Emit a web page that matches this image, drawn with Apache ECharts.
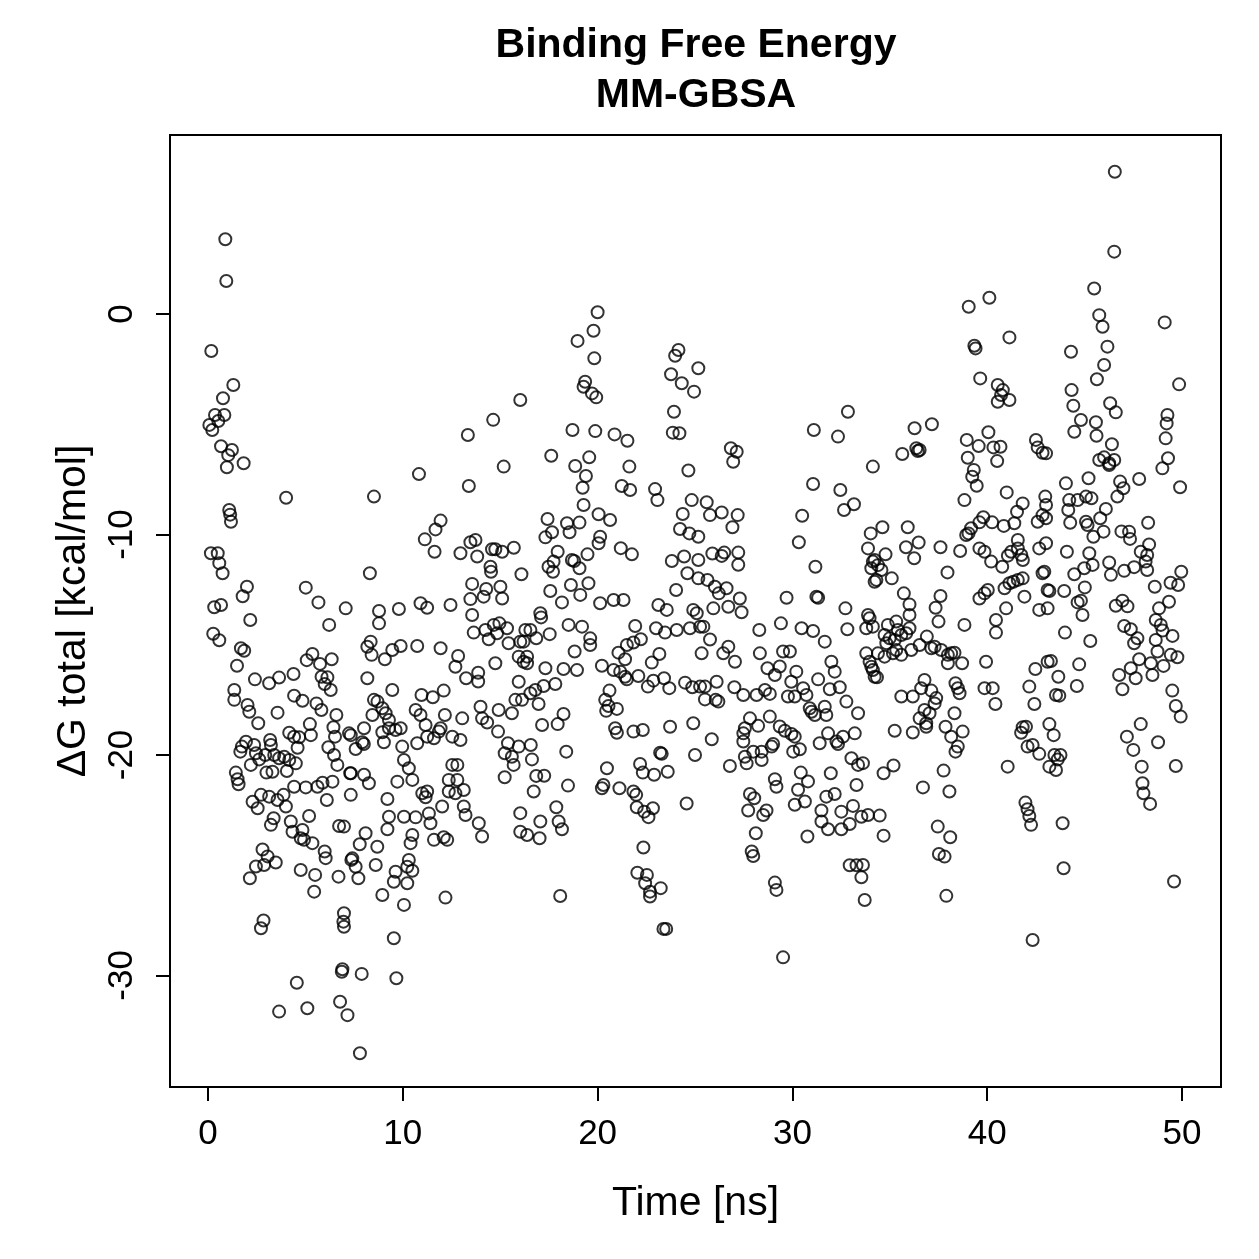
<!DOCTYPE html>
<html>
<head>
<meta charset="utf-8">
<script src="https://cdn.jsdelivr.net/npm/echarts@6.0.0/dist/echarts.min.js"></script>
<style>
  html, body { margin: 0; padding: 0; background: #fff; }
  #chart { width: 1259px; height: 1259px; }
</style>
</head>
<body>
<div id="chart"></div>
<script>
// [time (ns), dG total (kcal/mol)], grouped by time range
const pts0to7 = [[0.89,3.39],[0.94,1.5],[0.17,-1.68],[1.3,-3.22],[0.77,-3.82],[0.36,-4.58],[0.84,-4.58],[0.53,-4.85],[0.07,-5.03],[0.22,-5.26],[0.67,-6.0],[1.23,-6.17],[1.04,-6.4],[0.97,-6.95],[1.83,-6.77],[4.01,-8.33],[1.09,-8.89],[1.14,-9.1],[1.18,-9.42],[0.15,-10.85],[0.5,-10.85],[0.58,-11.3],[0.75,-11.76],[2.0,-12.37],[1.78,-12.8],[5.02,-12.41],[5.67,-13.08],[0.32,-13.3],[0.67,-13.2],[7.07,-13.35],[2.17,-13.88],[6.22,-14.1],[0.27,-14.5],[0.58,-14.8],[1.69,-15.16],[1.86,-15.27],[1.49,-15.95],[5.07,-15.7],[5.36,-15.42],[5.75,-15.87],[6.35,-15.66],[5.83,-16.45],[6.13,-16.48],[5.99,-16.78],[6.3,-17.05],[2.41,-16.57],[3.14,-16.75],[3.65,-16.49],[4.39,-16.33],[1.35,-17.05],[1.35,-17.5],[2.03,-17.73],[2.12,-18.04],[4.42,-17.31],[4.85,-17.54],[5.57,-17.66],[5.82,-17.96],[3.57,-18.08],[2.58,-18.56],[6.59,-18.19],[6.44,-18.74],[6.52,-19.17],[5.23,-18.6],[5.28,-19.1],[4.17,-18.99],[4.42,-19.17],[4.68,-19.2],[4.6,-19.67],[1.95,-19.4],[1.74,-19.62],[1.66,-19.85],[2.37,-19.55],[3.19,-19.32],[3.23,-19.55],[6.18,-19.65],[6.47,-20.0],[7.24,-19.02],[2.46,-19.92],[2.63,-20.2],[2.2,-20.45],[2.94,-20.0],[3.4,-20.0],[3.65,-20.15],[3.91,-20.08],[4.17,-20.23],[4.51,-20.38],[3.0,-20.8],[3.31,-20.76],[4.05,-20.73],[6.64,-20.45],[1.43,-20.8],[1.52,-21.1],[1.57,-21.33],[7.3,-20.83],[4.42,-21.44],[5.02,-21.47],[5.62,-21.44],[5.88,-21.26],[6.39,-21.21],[6.1,-22.04],[2.29,-22.12],[2.55,-22.42],[2.72,-21.81],[3.14,-21.89],[3.57,-22.04],[3.88,-21.81],[4.0,-22.34],[3.37,-22.87],[3.23,-23.17],[4.25,-23.02],[4.34,-23.48],[4.85,-23.4],[4.76,-23.78],[4.93,-23.85],[5.36,-24.0],[5.19,-22.77],[5.99,-24.38],[6.04,-24.68],[6.73,-23.22],[6.98,-23.25],[2.8,-24.29],[3.06,-24.6],[2.46,-25.06],[2.88,-24.99],[3.48,-24.88],[2.15,-25.59],[4.76,-25.22],[5.5,-25.44],[5.45,-26.2],[6.7,-25.52],[7.36,-24.76],[2.85,-27.51],[2.72,-27.86],[6.98,-27.18],[6.95,-27.56],[6.98,-27.79],[6.9,-29.72],[6.87,-29.83],[4.56,-30.33],[3.65,-31.64],[5.1,-31.49],[6.78,-31.19],[7.16,-31.8]];

const pts7to16 = [[16.03,-3.9],[14.64,-4.8],[13.34,-5.49],[15.18,-6.92],[10.83,-7.26],[13.39,-7.8],[8.52,-8.28],[11.94,-9.37],[11.68,-9.77],[11.13,-10.22],[11.63,-10.78],[13.47,-10.35],[13.73,-10.25],[12.96,-10.85],[13.82,-11.0],[14.58,-10.67],[14.75,-10.67],[15.1,-10.78],[15.7,-10.6],[8.31,-11.76],[14.5,-11.46],[14.53,-11.69],[16.09,-11.8],[13.56,-12.24],[14.28,-12.47],[15.01,-12.37],[15.1,-12.9],[14.15,-12.82],[13.47,-12.93],[10.91,-13.12],[11.25,-13.32],[12.45,-13.2],[9.8,-13.38],[8.78,-13.47],[8.78,-14.03],[13.56,-13.65],[13.64,-14.45],[14.24,-14.33],[14.67,-14.1],[14.96,-14.03],[15.35,-14.25],[14.84,-14.48],[14.41,-14.75],[15.43,-14.93],[16.03,-14.86],[15.95,-15.54],[16.2,-15.77],[16.29,-14.33],[8.35,-14.86],[8.18,-15.09],[8.4,-15.46],[9.08,-15.66],[9.46,-15.24],[9.89,-15.06],[10.74,-15.06],[11.94,-15.16],[12.84,-15.51],[12.7,-16.0],[13.25,-16.52],[13.87,-16.27],[13.87,-16.67],[14.75,-15.84],[8.18,-16.52],[9.46,-17.05],[10.96,-17.28],[11.54,-17.38],[12.1,-17.08],[15.95,-16.68],[15.78,-17.5],[16.12,-17.5],[8.52,-17.5],[8.7,-17.58],[8.95,-17.88],[9.12,-18.11],[8.44,-18.19],[9.29,-18.41],[9.63,-18.87],[10.66,-17.96],[10.91,-18.19],[11.17,-18.64],[12.16,-18.19],[13.05,-18.34],[13.99,-17.81],[14.07,-18.34],[14.33,-18.53],[14.92,-17.96],[15.6,-18.11],[14.89,-18.94],[15.4,-19.47],[15.95,-19.62],[15.23,-19.92],[15.6,-20.08],[15.69,-20.45],[15.23,-21.01],[7.33,-19.1],[8.01,-18.79],[7.58,-19.73],[7.92,-19.42],[8.0,-19.5],[8.95,-18.97],[9.03,-19.42],[9.29,-18.79],[9.89,-18.79],[9.97,-19.62],[10.74,-19.47],[10.06,-20.23],[10.31,-20.6],[10.49,-21.13],[11.25,-19.17],[11.6,-19.24],[11.85,-18.94],[11.94,-18.79],[12.54,-19.17],[12.96,-19.32],[7.33,-20.83],[8.01,-20.9],[8.26,-21.28],[7.33,-21.81],[9.72,-21.21],[9.21,-22.0],[9.29,-22.8],[9.21,-23.37],[10.06,-22.8],[10.66,-22.83],[11.34,-22.65],[11.42,-23.1],[12.02,-22.34],[12.54,-20.45],[12.8,-20.45],[12.36,-21.13],[12.8,-21.13],[12.36,-21.66],[12.7,-21.74],[13.13,-21.59],[13.13,-22.34],[13.22,-22.72],[13.9,-23.1],[14.07,-23.7],[11.0,-21.74],[11.25,-21.66],[11.17,-21.92],[11.6,-23.85],[12.1,-23.73],[12.28,-23.85],[10.49,-23.63],[10.4,-24.0],[10.31,-24.76],[10.23,-25.07],[10.49,-25.25],[10.23,-25.82],[9.63,-25.3],[9.54,-25.75],[8.09,-23.55],[7.79,-24.05],[7.41,-24.69],[7.58,-25.07],[7.72,-25.59],[8.69,-24.16],[8.61,-24.99],[8.95,-26.35],[10.06,-26.8],[12.19,-26.47],[9.54,-28.31],[7.89,-29.93],[9.67,-30.13],[7.8,-33.53]];

const pts16to25 = [[20.0,0.08],[19.79,-0.76],[18.97,-1.22],[19.83,-2.01],[19.36,-3.07],[19.28,-3.3],[19.71,-3.6],[19.93,-3.78],[24.15,-1.63],[23.98,-1.89],[25.17,-2.46],[23.77,-2.73],[24.32,-3.14],[24.95,-3.52],[23.92,-4.43],[23.86,-5.38],[24.2,-5.41],[18.71,-5.26],[19.88,-5.31],[20.87,-5.46],[21.53,-5.75],[17.62,-6.43],[19.57,-6.5],[18.85,-6.89],[19.4,-7.35],[19.23,-7.88],[19.28,-8.66],[21.63,-6.92],[21.24,-7.8],[21.67,-7.98],[22.95,-7.94],[23.07,-8.44],[24.66,-7.1],[24.83,-8.44],[24.37,-9.07],[24.23,-9.75],[24.71,-9.95],[25.17,-10.1],[17.43,-9.3],[17.66,-9.9],[17.32,-10.13],[18.43,-9.49],[18.56,-9.9],[19.07,-9.46],[20.05,-9.08],[20.64,-9.34],[20.13,-10.1],[20.05,-10.4],[21.19,-10.62],[21.76,-10.9],[17.95,-10.78],[17.74,-11.23],[17.48,-11.46],[17.71,-11.69],[18.68,-11.16],[18.8,-11.2],[19.07,-11.53],[19.48,-10.9],[17.57,-12.56],[18.17,-13.08],[18.63,-12.29],[19.11,-12.74],[19.53,-12.21],[20.13,-13.12],[20.82,-12.97],[21.33,-12.97],[23.12,-13.2],[23.55,-13.42],[24.03,-12.52],[23.81,-11.2],[24.44,-11.0],[24.61,-11.76],[25.17,-11.99],[25.17,-11.16],[24.91,-13.42],[17.06,-13.57],[25.09,-13.57],[17.1,-13.76],[16.55,-14.33],[16.85,-14.71],[16.2,-14.86],[17.54,-14.52],[18.51,-14.1],[19.2,-14.18],[19.62,-14.71],[19.62,-15.01],[18.82,-15.31],[21.93,-14.15],[23.0,-14.25],[23.46,-14.45],[24.06,-14.33],[24.74,-14.25],[25.26,-14.18],[21.07,-15.36],[21.5,-15.01],[21.84,-14.9],[22.22,-14.75],[21.41,-15.66],[22.78,-15.81],[23.17,-15.42],[16.38,-15.54],[16.38,-15.84],[17.32,-16.07],[18.25,-16.1],[18.94,-16.15],[16.55,-17.2],[16.8,-17.05],[17.23,-16.87],[17.83,-16.78],[16.97,-17.69],[20.22,-15.95],[20.82,-16.15],[21.16,-16.22],[21.41,-16.45],[21.5,-16.57],[22.09,-16.42],[22.58,-16.9],[22.86,-16.63],[23.41,-16.52],[23.68,-16.97],[24.49,-16.72],[24.86,-16.93],[25.26,-16.9],[20.61,-17.08],[20.39,-17.5],[20.56,-17.78],[20.44,-18.0],[20.99,-17.91],[20.9,-18.79],[20.99,-18.99],[21.84,-18.94],[22.32,-18.87],[23.72,-18.72],[24.91,-18.56],[18.25,-18.14],[17.95,-18.6],[17.15,-18.64],[23.21,-19.9],[23.29,-19.95],[25.0,-20.0],[16.57,-19.55],[16.63,-20.2],[16.85,-20.95],[17.26,-20.94],[16.72,-21.66],[18.39,-19.85],[18.48,-21.39],[17.88,-22.37],[16.03,-22.64],[16.03,-23.48],[16.38,-23.63],[17.02,-23.78],[17.06,-23.02],[18.0,-23.02],[18.17,-23.37],[20.48,-20.6],[20.3,-21.36],[20.22,-21.51],[21.12,-21.51],[21.84,-21.66],[21.98,-21.81],[22.01,-22.37],[22.39,-22.57],[22.61,-22.82],[22.84,-22.42],[22.18,-20.41],[22.32,-20.8],[22.9,-20.9],[23.6,-20.76],[24.57,-22.2],[22.35,-24.2],[22.04,-25.34],[22.53,-25.44],[22.44,-25.82],[22.69,-26.2],[22.69,-26.42],[23.24,-26.04],[18.08,-26.4],[23.38,-27.89],[23.52,-27.89]];

const pts25to34 = [[26.84,-6.09],[27.14,-6.25],[26.96,-6.7],[32.85,-4.43],[31.1,-5.26],[32.34,-5.56],[34.13,-6.92],[31.06,-7.71],[32.46,-7.98],[33.16,-8.63],[32.65,-8.89],[30.5,-9.15],[30.33,-10.35],[25.6,-8.54],[25.77,-9.12],[26.37,-9.0],[27.19,-9.12],[26.92,-9.67],[25.89,-10.86],[26.37,-10.97],[26.5,-10.82],[27.22,-10.82],[27.22,-11.37],[25.64,-12.06],[26.02,-12.37],[26.22,-12.67],[26.62,-12.44],[27.3,-12.9],[26.71,-13.28],[25.94,-13.35],[27.39,-13.53],[29.7,-12.87],[31.23,-12.82],[31.32,-12.87],[32.72,-13.35],[31.18,-11.46],[34.02,-9.95],[33.88,-10.63],[34.13,-11.23],[34.05,-11.53],[34.22,-12.14],[33.88,-13.65],[25.43,-14.18],[25.77,-14.76],[25.34,-15.39],[26.45,-15.39],[26.71,-15.09],[27.05,-15.77],[28.3,-14.33],[28.33,-15.39],[29.41,-14.03],[30.47,-14.25],[31.06,-14.38],[31.66,-14.86],[29.52,-15.31],[29.87,-15.31],[32.82,-14.3],[33.79,-14.25],[33.96,-13.8],[32.0,-15.77],[32.17,-16.22],[31.92,-17.02],[32.43,-16.93],[31.32,-16.57],[32.77,-17.58],[33.37,-18.11],[33.79,-15.39],[34.05,-16.0],[34.22,-16.45],[25.51,-16.9],[26.11,-16.68],[25.51,-17.48],[26.06,-17.5],[26.2,-17.58],[27.02,-16.93],[27.48,-17.28],[28.16,-17.28],[28.59,-17.05],[28.84,-17.23],[28.72,-16.07],[29.1,-16.37],[29.35,-15.99],[30.2,-16.22],[29.94,-16.68],[29.77,-17.35],[30.12,-17.35],[30.55,-16.97],[30.72,-17.28],[30.89,-17.88],[30.98,-18.04],[31.15,-18.19],[31.66,-17.81],[31.74,-18.19],[31.83,-19.02],[31.4,-19.47],[32.26,-19.39],[32.34,-19.5],[32.6,-19.17],[33.2,-19.02],[33.03,-20.15],[33.37,-20.45],[33.62,-20.37],[31.97,-20.83],[33.29,-21.36],[27.82,-18.34],[27.56,-18.79],[27.48,-19.02],[27.48,-19.39],[28.24,-18.68],[28.84,-18.26],[29.35,-18.71],[29.61,-18.9],[29.95,-19.05],[30.12,-19.17],[27.56,-20.08],[27.65,-20.38],[27.99,-19.85],[28.42,-19.85],[28.42,-20.23],[28.93,-19.62],[29.01,-19.5],[30.04,-19.85],[30.38,-19.74],[26.79,-20.5],[25.86,-19.29],[29.1,-21.1],[29.18,-21.44],[30.43,-20.8],[30.8,-21.2],[30.29,-21.58],[30.64,-22.11],[30.12,-22.26],[31.49,-22.52],[31.49,-23.02],[31.74,-21.89],[32.17,-21.77],[32.51,-22.57],[33.11,-22.31],[32.94,-23.13],[32.51,-23.37],[33.54,-22.8],[33.88,-22.72],[31.83,-23.37],[30.77,-23.7],[27.82,-21.77],[28.04,-21.96],[27.73,-22.52],[28.5,-22.72],[28.67,-22.52],[28.12,-23.55],[27.91,-24.38],[27.99,-24.58],[29.1,-25.79],[29.18,-26.12],[29.52,-29.18],[32.94,-25.0],[33.29,-25.0],[33.62,-24.99],[33.54,-25.55],[33.71,-26.58]];

const pts34to43 = [[40.11,0.74],[39.05,0.33],[41.14,-1.06],[39.34,-1.44],[39.4,-1.56],[39.64,-2.92],[40.54,-3.22],[40.8,-3.45],[40.71,-3.67],[40.54,-3.98],[41.14,-3.9],[36.27,-5.18],[37.16,-5.0],[36.36,-6.09],[36.44,-6.21],[36.53,-6.17],[35.64,-6.35],[38.95,-5.71],[39.56,-5.99],[40.06,-5.36],[40.32,-6.05],[40.68,-6.02],[40.51,-6.67],[42.5,-5.71],[42.59,-6.05],[42.84,-6.29],[39.0,-6.52],[39.31,-7.07],[39.23,-7.38],[39.46,-7.79],[38.83,-8.44],[41.0,-8.09],[41.82,-8.59],[41.53,-8.97],[41.39,-9.49],[40.85,-9.61],[40.25,-9.45],[39.8,-9.22],[39.6,-9.45],[39.17,-9.72],[39.04,-9.95],[38.92,-10.02],[42.98,-8.28],[43.02,-8.66],[42.84,-9.12],[42.59,-9.42],[34.62,-9.67],[34.22,-11.16],[34.39,-11.39],[34.57,-11.61],[34.31,-12.06],[34.78,-10.9],[35.1,-11.99],[35.92,-9.67],[35.83,-10.58],[36.25,-11.08],[36.48,-10.36],[37.6,-10.58],[37.96,-11.72],[38.61,-10.75],[35.72,-12.67],[36.01,-13.17],[37.35,-13.32],[37.6,-12.79],[39.6,-10.63],[39.86,-10.78],[40.2,-11.23],[40.77,-11.46],[41.06,-10.96],[41.23,-10.78],[41.57,-10.25],[41.57,-10.63],[41.75,-10.93],[41.83,-11.16],[40.89,-12.44],[41.14,-12.21],[41.34,-12.14],[41.57,-12.06],[41.82,-11.99],[41.91,-12.82],[42.67,-10.63],[43.02,-10.4],[42.84,-11.76],[42.93,-11.69],[43.1,-12.52],[42.67,-13.42],[43.1,-13.35],[39.6,-12.9],[39.86,-12.67],[40.03,-12.52],[40.97,-13.35],[36.01,-13.65],[37.5,-13.95],[38.83,-14.1],[40.45,-13.88],[40.45,-14.45],[34.13,-14.18],[34.9,-14.1],[35.33,-13.95],[35.41,-14.33],[34.73,-14.56],[34.99,-14.71],[35.25,-14.78],[35.59,-14.56],[35.84,-14.48],[36.01,-14.25],[34.82,-14.93],[35.33,-15.24],[35.59,-15.46],[35.16,-15.39],[34.39,-15.39],[34.73,-15.54],[33.96,-15.77],[34.13,-16.15],[34.34,-16.48],[36.1,-15.24],[36.53,-15.01],[36.9,-14.63],[37.13,-15.16],[37.3,-15.09],[37.64,-15.24],[37.98,-15.46],[38.15,-15.39],[38.32,-15.36],[37.98,-15.84],[38.71,-15.84],[39.94,-15.77],[39.86,-16.97],[40.28,-16.97],[40.42,-17.69],[42.47,-16.1],[42.16,-16.9],[42.42,-17.69],[43.1,-15.77],[36.78,-16.6],[36.61,-16.97],[37.13,-17.08],[37.38,-17.42],[37.3,-17.66],[36.78,-17.96],[37.04,-18.11],[36.53,-18.34],[36.87,-18.56],[36.87,-18.72],[35.59,-17.35],[36.18,-17.35],[35.25,-18.9],[36.18,-18.98],[38.37,-16.75],[38.49,-16.97],[38.58,-17.2],[38.32,-18.11],[37.86,-18.72],[38.74,-18.94],[38.15,-19.17],[38.49,-19.62],[38.37,-19.85],[37.76,-20.71],[36.7,-21.47],[38.06,-21.66],[35.19,-20.48],[34.68,-20.83],[34.48,-22.75],[34.68,-23.66],[37.46,-23.25],[38.1,-23.73],[37.52,-24.49],[37.81,-24.61],[37.9,-26.39],[41.82,-18.74],[41.99,-18.72],[41.74,-18.99],[42.07,-19.62],[42.33,-19.55],[42.67,-19.95],[41.05,-20.53],[41.96,-22.16],[42.07,-22.46],[42.16,-22.77],[42.25,-23.17],[42.33,-28.39],[43.19,-18.6],[43.19,-20.53]];

const pts43to50 = [[46.55,6.45],[46.52,2.83],[45.49,1.16],[45.75,-0.05],[45.92,-0.58],[49.11,-0.38],[44.3,-1.71],[46.17,-1.48],[46.0,-2.31],[45.63,-2.96],[49.85,-3.19],[44.33,-3.45],[44.42,-4.16],[44.81,-4.81],[44.47,-5.34],[46.31,-4.05],[46.6,-4.46],[45.58,-4.91],[45.61,-5.52],[49.25,-4.58],[49.21,-4.96],[49.16,-5.64],[49.28,-6.54],[48.99,-7.0],[49.9,-7.86],[46.4,-5.91],[45.75,-6.62],[46.0,-6.5],[46.26,-6.77],[46.52,-6.62],[46.26,-6.85],[43.02,-6.32],[44.04,-7.68],[45.2,-7.45],[46.82,-7.6],[46.99,-7.9],[46.68,-8.28],[47.8,-7.48],[43.02,-9.26],[44.21,-8.44],[44.64,-8.44],[45.07,-8.28],[45.35,-8.36],[44.16,-8.89],[44.26,-9.47],[45.07,-9.42],[45.15,-9.57],[45.45,-10.1],[45.8,-9.26],[46.09,-8.84],[45.97,-9.87],[46.89,-9.86],[47.28,-9.87],[47.33,-10.2],[48.26,-9.47],[48.31,-10.45],[47.88,-10.78],[48.21,-10.93],[48.13,-11.23],[48.21,-11.61],[44.09,-10.78],[45.24,-10.85],[45.41,-11.38],[44.98,-11.53],[44.47,-11.8],[46.26,-11.27],[46.35,-11.83],[47.03,-11.65],[47.54,-11.48],[49.96,-11.69],[49.41,-12.19],[49.8,-12.29],[48.6,-12.37],[49.33,-13.05],[48.82,-13.35],[45.01,-12.4],[43.95,-12.56],[43.19,-12.56],[44.64,-13.08],[44.81,-13.0],[46.6,-13.23],[46.94,-13.0],[47.2,-13.26],[44.89,-13.65],[43.99,-14.45],[45.29,-14.83],[43.27,-15.74],[44.72,-15.89],[43.65,-16.45],[44.6,-16.87],[43.53,-17.28],[43.7,-17.31],[47.03,-14.15],[47.37,-14.3],[47.71,-14.71],[47.54,-14.93],[48.65,-13.88],[48.91,-14.1],[49.0,-14.36],[48.65,-14.78],[48.74,-15.31],[49.51,-14.6],[49.42,-15.46],[49.76,-15.57],[47.8,-15.66],[47.37,-16.07],[47.62,-16.52],[46.77,-16.37],[46.94,-17.02],[48.4,-15.84],[48.48,-16.37],[49.05,-15.96],[49.5,-17.08],[49.68,-17.78],[49.93,-18.26],[43.41,-19.1],[43.45,-20.0],[43.76,-20.0],[43.62,-20.2],[43.53,-20.68],[43.87,-23.1],[43.92,-25.14],[47.88,-18.6],[47.17,-19.17],[47.5,-19.77],[48.77,-19.42],[47.93,-20.53],[47.97,-21.28],[48.02,-21.74],[48.36,-22.22],[49.68,-20.5],[49.59,-25.74]];

const xTicks = [0, 10, 20, 30, 40, 50];
const yTicks = [-30, -20, -10, 0];
const titleLines = ["Binding Free Energy", "MM-GBSA"];

const font = "'Liberation Sans', Arial, Helvetica, sans-serif";
const allPts = [].concat(pts0to7, pts7to16, pts16to25, pts25to34, pts34to43, pts43to50);

const myChart = echarts.init(document.getElementById("chart"));
const options = {
  animation: false,
  backgroundColor: "#fff",
  graphic: titleLines.map((t, i) => ({
    type: "text",
    x: 696,
    y: 46 + i * 50,
    style: {
      text: t,
      fill: "#000",
      font: "bold 41px " + font,
      textAlign: "center",
      textVerticalAlign: "middle"
    }
  })),
  grid: {
    left: 170,
    right: 38,
    top: 135,
    bottom: 172,
    show: true,
    borderColor: "#000",
    borderWidth: 2,
    containLabel: false,
    outerBoundsMode: "none"
  },
  xAxis: {
    type: "value",
    min: -1.95,
    max: 52,
    name: "Time [ns]",
    nameLocation: "middle",
    nameGap: 96,
    nameTextStyle: { fontFamily: font, fontSize: 41, color: "#000" },
    axisLine: { show: true, onZero: false, lineStyle: { color: "#000", width: 2 } },
    axisTick: {
      show: true,
      length: 14,
      customValues: xTicks,
      lineStyle: { color: "#000", width: 2 }
    },
    axisLabel: {
      customValues: xTicks,
      margin: 30,
      fontFamily: font,
      fontSize: 35,
      color: "#000"
    },
    splitLine: { show: false }
  },
  yAxis: {
    type: "value",
    min: -35.06,
    max: 8.12,
    name: "\u0394G total [kcal/mol]",
    nameLocation: "middle",
    nameGap: 76,
    nameTextStyle: { fontFamily: font, fontSize: 41, color: "#000" },
    axisLine: { show: true, onZero: false, lineStyle: { color: "#000", width: 2 } },
    axisTick: {
      show: true,
      length: 14,
      customValues: yTicks,
      lineStyle: { color: "#000", width: 2 }
    },
    axisLabel: {
      customValues: yTicks,
      rotate: 90,
      margin: 30,
      fontFamily: font,
      fontSize: 35,
      color: "#000"
    },
    splitLine: { show: false }
  },
  series: [
    {
      type: "scatter",
      data: allPts,
      symbol: "circle",
      symbolSize: 12,
      silent: true,
      itemStyle: {
        color: "rgba(0,0,0,0)",
        borderColor: "#000",
        borderWidth: 2
      }
    }
  ]
};
myChart.setOption(options);
</script>
</body>
</html>
